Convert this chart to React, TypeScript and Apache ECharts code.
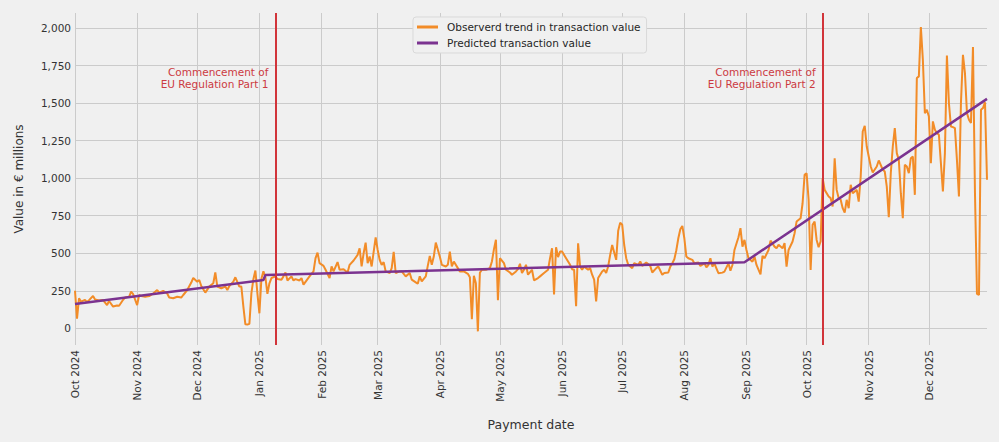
import React, { useEffect, useRef } from 'react';
import * as echarts from 'echarts';

const FONT = '"DejaVu Sans", Verdana, sans-serif';
const DAY = 86400000;
const START = Date.UTC(2024, 9, 1);
const END = Date.UTC(2025, 11, 30);

const MONTHS = ['Jan', 'Feb', 'Mar', 'Apr', 'May', 'Jun', 'Jul', 'Aug', 'Sep', 'Oct', 'Nov', 'Dec'];

const monthTicks = [
  '2024-10-01', '2024-11-01', '2024-12-01', '2025-01-01', '2025-02-01', '2025-03-01', '2025-04-01',
  '2025-05-01', '2025-06-01', '2025-07-01', '2025-08-01', '2025-09-01', '2025-10-01', '2025-11-01',
  '2025-12-01',
];
const valueTicks = [0, 250, 500, 750, 1000, 1250, 1500, 1750, 2000];

const regulationDates = ['2025-01-09', '2025-10-09'];
const regulationLabels = [
  'Commencement of\nEU Regulation Part 1',
  'Commencement of\nEU Regulation Part 2',
];

// [days since 1 Oct 2024, value in € millions]
const observed: [number, number][] = [
  [0, 250], [1, 65], [2, 200], [3, 178], [5, 190], [6, 175], [7, 188], [9, 215], [10, 192], [12, 185],
  [14, 188], [16, 155], [17, 182], [19, 145], [21, 152], [22, 150], [24, 190], [25, 205], [27, 210],
  [28, 245], [29, 228], [31, 155], [32, 222], [33, 215], [35, 210], [37, 215], [39, 232], [41, 255],
  [42, 238], [44, 250], [46, 232], [47, 205], [49, 200], [51, 210], [53, 205], [54, 222], [56, 255],
  [58, 305], [59, 335], [61, 310], [62, 322], [63, 282], [65, 238], [67, 278], [69, 300], [70, 373],
  [71, 278], [73, 267], [75, 278], [76, 255], [77, 282], [79, 311], [80, 340], [82, 278], [83, 278],
  [84, 145], [85, 27], [86, 25], [87, 30], [88, 233], [89, 327], [90, 385], [91, 233], [92, 100],
  [93, 330], [94, 380], [95, 340], [96, 230], [97, 300], [98, 335], [100, 346], [101, 328], [103, 324],
  [104, 346], [105, 372], [106, 319], [108, 346], [109, 319], [110, 328], [112, 319], [113, 335],
  [114, 291], [116, 328], [117, 346], [119, 379], [120, 467], [121, 504], [122, 434], [124, 416],
  [125, 390], [127, 335], [128, 412], [129, 379], [131, 441], [132, 390], [134, 394], [136, 372],
  [137, 423], [139, 452], [141, 489], [142, 533], [143, 412], [144, 500], [145, 571], [146, 434],
  [147, 478], [148, 412], [150, 606], [151, 522], [152, 456], [153, 423], [154, 441], [155, 379],
  [157, 368], [158, 401], [159, 509], [160, 368], [162, 379], [163, 379], [165, 346], [167, 368],
  [168, 324], [170, 306], [171, 297], [172, 346], [173, 313], [175, 346], [176, 416], [177, 482],
  [178, 423], [179, 478], [180, 571], [182, 478], [183, 423], [185, 412], [186, 423], [187, 511],
  [188, 412], [189, 445], [191, 401], [192, 379], [194, 379], [196, 363], [197, 340], [198, 60],
  [199, 350], [200, 300], [201, -20], [202, 370], [203, 390], [205, 390], [207, 401], [208, 445],
  [209, 526], [210, 590], [211, 187], [212, 467], [214, 434], [215, 390], [217, 372], [218, 357],
  [220, 379], [221, 394], [222, 430], [223, 368], [224, 390], [225, 423], [226, 357], [228, 390],
  [229, 319], [231, 335], [232, 346], [234, 368], [236, 390], [237, 467], [238, 533], [239, 225],
  [240, 540], [241, 474], [242, 511], [243, 511], [245, 467], [247, 423], [248, 394], [249, 390],
  [250, 148], [251, 566], [252, 412], [253, 390], [254, 412], [255, 401], [256, 390], [257, 401],
  [258, 357], [259, 324], [260, 180], [261, 335], [263, 379], [264, 390], [265, 368], [266, 412],
  [267, 489], [268, 555], [270, 456], [271, 650], [272, 704], [273, 690], [274, 555], [275, 467],
  [276, 423], [278, 401], [279, 434], [281, 423], [282, 445], [283, 416], [285, 438], [287, 416],
  [288, 372], [290, 401], [291, 412], [293, 357], [294, 368], [296, 372], [297, 411], [298, 433],
  [299, 460], [300, 520], [301, 600], [302, 660], [303, 682], [304, 600], [305, 478], [306, 467],
  [308, 456], [309, 433], [311, 438], [312, 416], [314, 433], [315, 407], [316, 422], [317, 467],
  [318, 411], [319, 433], [320, 400], [321, 367], [323, 371], [324, 378], [326, 433], [327, 384],
  [328, 422], [329, 522], [331, 607], [332, 667], [333, 544], [334, 589], [335, 522], [336, 467],
  [338, 444], [339, 478], [340, 422], [342, 360], [343, 482], [344, 467], [346, 522], [347, 584],
  [349, 544], [350, 533], [351, 556], [353, 533], [354, 567], [355, 411], [356, 522], [358, 578],
  [359, 633], [360, 711], [362, 733], [363, 833], [364, 1022], [365, 1033], [366, 856], [367, 389],
  [368, 689], [369, 711], [370, 589], [371, 540], [372, 580], [373, 1000], [374, 922], [376, 878],
  [377, 867], [378, 811], [379, 1133], [380, 922], [381, 867], [382, 856], [383, 800], [384, 771],
  [385, 856], [386, 800], [387, 956], [388, 900], [390, 922], [391, 844], [392, 1011], [393, 1311],
  [394, 1349], [395, 1211], [396, 1144], [397, 1078], [398, 1038], [400, 1078], [401, 1118],
  [403, 1056], [404, 1044], [405, 944], [406, 740], [407, 1033], [408, 1211], [409, 1333],
  [410, 1167], [411, 1122], [412, 900], [413, 733], [414, 1089], [415, 1078], [416, 1033],
  [417, 1133], [418, 1144], [419, 889], [420, 1667], [421, 1678], [422, 2007], [423, 1789],
  [424, 1433], [425, 1456], [426, 1411], [427, 1100], [428, 1378], [429, 1322], [430, 1300],
  [431, 1289], [432, 1100], [433, 911], [434, 1167], [435, 1816], [436, 1500], [437, 1344],
  [438, 1340], [439, 1333], [440, 1122], [441, 878], [442, 1500], [443, 1822], [444, 1700],
  [445, 1433], [446, 1389], [447, 1367], [448, 1873], [449, 900], [450, 230], [451, 222],
  [452, 1456], [453, 1467], [454, 1505], [455, 990],
];

// fitted trend, piecewise linear
const predicted: [number, number][] = [[0, 162], [94, 322], [95, 355], [334, 440], [455, 1528]];

const toTime = (pts: [number, number][]) => pts.map(([d, v]) => [START + d * DAY, v]);

const App: React.FC = () => {
  const chartRef = useRef<HTMLDivElement>(null);

  useEffect(() => {
    if (!chartRef.current) return;
    const chart = echarts.init(chartRef.current, undefined, { renderer: 'svg' });

    const axisText = { color: '#333', fontFamily: FONT, fontSize: 10.5 };
    const gridLine = { show: true, lineStyle: { color: '#cbcbcb', width: 1 } };
    const monthValues = monthTicks.map((m) => Date.parse(m));

    chart.setOption({
      animation: false,
      backgroundColor: '#f0f0f0',
      textStyle: { fontFamily: FONT },
      grid: { left: 75, right: 12, top: 13, bottom: 97, outerBoundsMode: 'none' },
      legend: {
        orient: 'vertical',
        left: 413,
        top: 17,
        icon: 'rect',
        itemWidth: 21,
        itemHeight: 3,
        itemGap: 2,
        padding: [3, 6, 3, 4],
        backgroundColor: '#f0f0f0',
        borderColor: '#d9d9d9',
        borderWidth: 1,
        borderRadius: 3,
        textStyle: { fontSize: 10.5, fontFamily: FONT, color: '#262626', lineHeight: 14, padding: [0, 0, 0, 4] },
        data: ['Observerd trend in transaction value', 'Predicted transaction value'],
      },
      xAxis: {
        type: 'value',
        min: START,
        max: END,
        name: 'Payment date',
        nameLocation: 'middle',
        nameGap: 73,
        nameTextStyle: { color: '#333', fontFamily: FONT, fontSize: 12.5 },
        axisLine: { show: false },
        axisTick: { show: false, customValues: monthValues },
        axisLabel: {
          ...axisText,
          rotate: 90,
          margin: 5,
          customValues: monthValues,
          formatter: (v: number) => {
            const d = new Date(v);
            return `${MONTHS[d.getUTCMonth()]} ${d.getUTCFullYear()}`;
          },
        },
        splitLine: gridLine,
      },
      yAxis: {
        type: 'value',
        min: -111,
        max: 2100,
        name: 'Value in € millions',
        nameLocation: 'middle',
        nameGap: 50,
        nameTextStyle: { color: '#333', fontFamily: FONT, fontSize: 12 },
        axisLine: { show: false },
        axisTick: { show: false, customValues: valueTicks },
        axisLabel: {
          ...axisText,
          margin: 4,
          customValues: valueTicks,
          formatter: (v: number) => v.toLocaleString('en-US'),
        },
        splitLine: gridLine,
      },
      series: [
        {
          name: 'Observerd trend in transaction value',
          type: 'line',
          data: toTime(observed),
          symbol: 'none',
          color: '#f28c28',
          lineStyle: { color: '#f28c28', width: 2 },
        },
        {
          name: 'Predicted transaction value',
          type: 'line',
          data: toTime(predicted),
          symbol: 'none',
          color: '#7b3390',
          lineStyle: { color: '#7b3390', width: 2.5 },
          markLine: {
            silent: true,
            symbol: 'none',
            label: { show: false },
            lineStyle: { color: '#d1343a', width: 2, type: 'solid' },
            data: regulationDates.map((d) => ({ xAxis: Date.parse(d) })),
          },
        },
      ],
    });

    // annotations placed through the chart's own scales
    const notes = regulationDates.map((d, i) => {
      const [px, py] = chart.convertToPixel({ gridIndex: 0 }, [Date.parse(d), 1750]) as number[];
      return {
        type: 'text',
        x: px - 7,
        y: py,
        style: {
          text: regulationLabels[i],
          align: 'right',
          verticalAlign: 'top',
          textAlign: 'right',
          textVerticalAlign: 'top',
          fill: '#cc3a42',
          font: `10.5px ${FONT}`,
          lineHeight: 12,
        },
      };
    });
    chart.setOption({ graphic: notes });

    return () => {
      chart.dispose();
    };
  }, []);

  return (
    <div
      ref={chartRef}
      style={{ position: 'fixed', left: 0, top: 0, width: '999px', height: '442px' }}
    />
  );
};

export default App;
